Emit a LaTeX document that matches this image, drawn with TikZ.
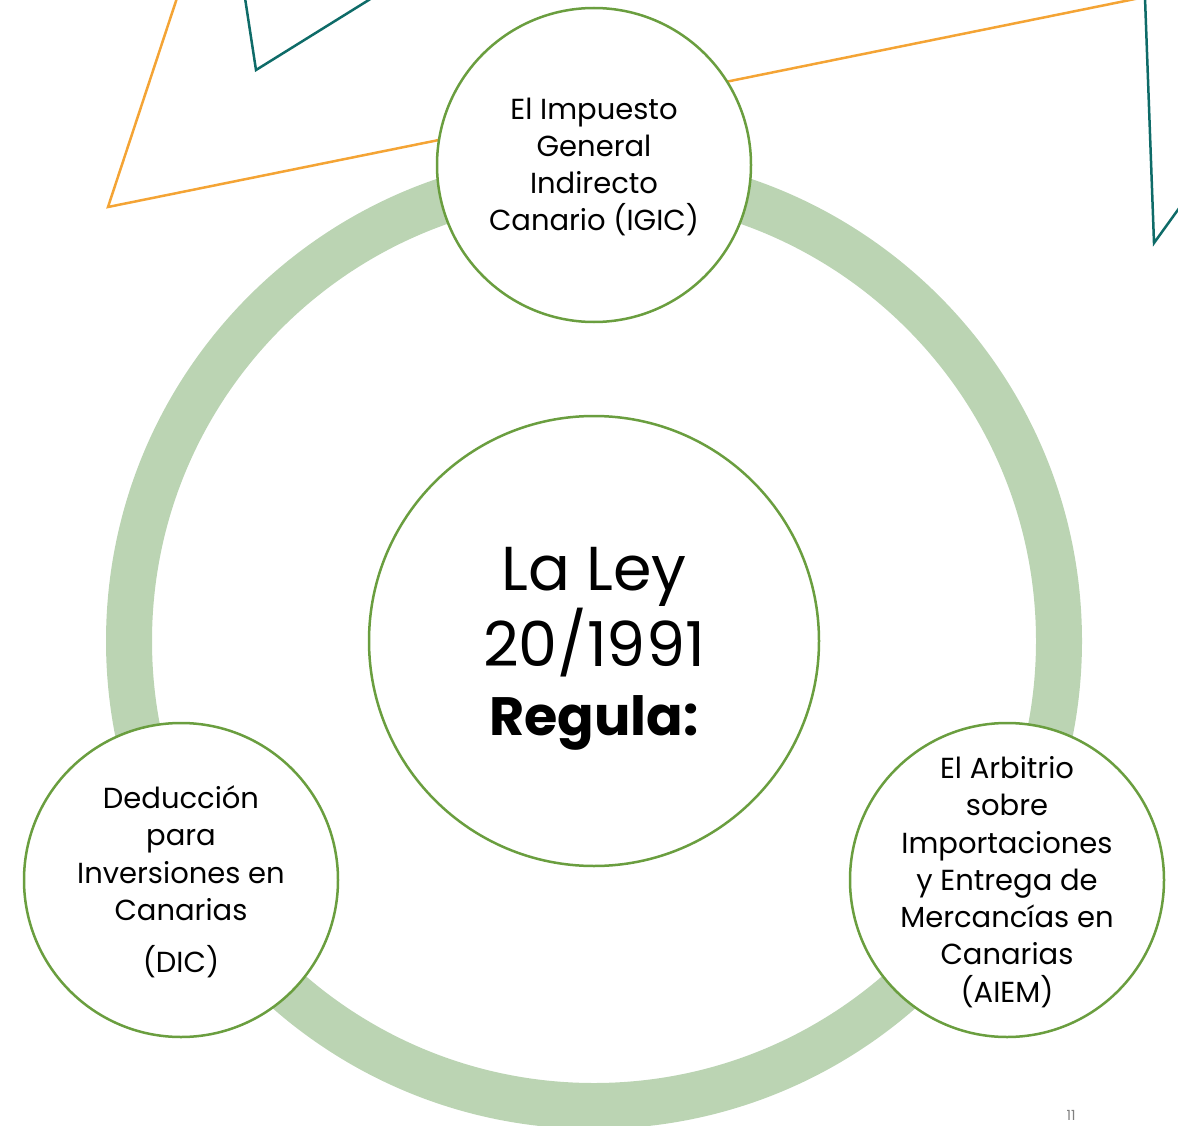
\documentclass[tikz,border=0pt]{standalone}
\usepackage{fontspec}
\setmainfont{Poppins}
\definecolor{ringgreen}{HTML}{BBD4B3}
\definecolor{edgegreen}{HTML}{6A9E3F}
\definecolor{decoorange}{HTML}{F4A435}
\definecolor{decoteal}{HTML}{0E6B68}
\begin{document}
\begin{tikzpicture}[x=1pt,y=-1pt,
  bubble/.style={circle, draw=edgegreen, line width=2.5pt, fill=white, minimum size=314pt, inner sep=0pt},
  hub/.style={circle, draw=edgegreen, line width=2.5pt, fill=white, minimum size=450pt, inner sep=0pt},
  smalltext/.style={font=\fontsize{29}{37.3}\selectfont, align=center, inner sep=0pt},
  bigtext/.style={font=\fontsize{62}{69}\selectfont, align=center, inner sep=0pt},
  deco/.style={line width=2.5pt, line join=miter}]
\useasboundingbox (0,0) rectangle (1178,1126);
\begin{scope}
\clip (0,0) rectangle (1178,1126);
% decorations
\coordinate (o1) at (177,-2);
\coordinate (o2) at (108,207);
\coordinate (o3) at (1140,-2);
\draw[deco, decoorange] (o1) -- (o2) -- (o3);
\coordinate (t1) at (245,-2);
\coordinate (t2) at (256,70);
\coordinate (t3) at (372,-2);
\draw[deco, decoteal] (t1) -- (t2) -- (t3);
\coordinate (u1) at (1145,-2);
\coordinate (u2) at (1154,243);
\coordinate (u3) at (1185,200);
\draw[deco, decoteal] (u1) -- (u2) -- (u3);
% ring
\coordinate (c) at (594,641);
\draw[ringgreen, line width=46pt] (c) circle[radius=465];
\end{scope}
% nodes
\node[hub] (center) at (594,641) {};
\node[bigtext] (centertext) at (594,649) {La Ley\\20/1991\\{\fontsize{54}{69}\selectfont\textbf{Regula:}}};
\node[bubble] (igic) at (594,165) {};
\node[smalltext] (igictext) at (594,167) {El Impuesto\\General\\Indirecto\\Canario (IGIC)};
\node[bubble] (dic) at (181,880) {};
\node[smalltext] (dictext) at (181,882) {Deducción\\para\\Inversiones en\\Canarias\\[15pt](DIC)};
\node[bubble] (aiem) at (1007,880) {};
\node[smalltext] (aiemtext) at (1007,882) {El Arbitrio\\sobre\\Importaciones\\y Entrega de\\Mercancías en\\Canarias\\(AIEM)};
\node[text=gray, font=\fontsize{14}{16}\selectfont, anchor=south, inner sep=0pt] (page) at (1071,1121) {11};
\end{tikzpicture}
\end{document}
